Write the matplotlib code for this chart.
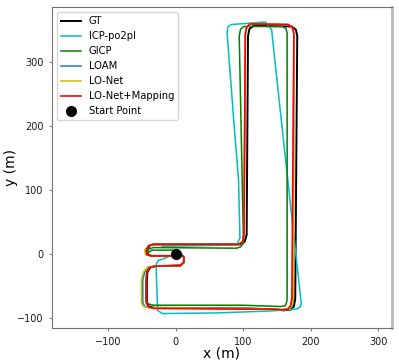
import matplotlib
matplotlib.use("Agg")
import matplotlib.pyplot as plt

# Trajectories (x, y in metres)
gt_x = [0, 8, 12, 12, 7, -30, -38, -42, -43, -43, -40, -32, 100, 140, 160, 170, 175, 177, 180, 178, 172, 115, 109, 107, 105, 102, 95, -33, -39, -42, -41, -36, -5]
gt_y = [0, -1, -5, -13, -18, -19, -21, -28, -40, -76, -82, -84, -85, -86, -88, -87, -82, -70, 340, 350, 355, 356, 351, 340, 30, 19, 15, 15, 13, 6, -1, -3, -3]

icp_x = [0, -20, -26, -29, -29, -27, -20, 60, 140, 178, 184, 186, 166, 147, 142, 133, 82, 77, 76, 87, 93, 95, 90, 40, -20]
icp_y = [0, -8, -10, -16, -30, -88, -93, -92, -89, -86, -83, -78, 115, 300, 350, 362, 358, 354, 345, 193, 115, 25, 14, 13, 12]

gicp_x = [0, 8, 12, 11, 6, -30, -39, -43, -44, -44, -41, -33, 100, 155, 162, 164, 165, 165, 163, 158, 101, 96, 94, 100, 100, 96, 90, -33, -40, -43, -42, -36, -3]
gicp_y = [0, -2, -6, -13, -18, -19, -21, -28, -40, -72, -78, -80, -80, -82, -81, -76, -70, 345, 352, 355, 355, 351, 340, 30, 17, 11, 9, 10, 8, 4, 1, 6, 6]

loam_x = [0, 8, 12, 12, 7, -30, -40, -46, -49, -49, -46, -38, 100, 140, 158, 168, 172, 174, 175, 173, 167, 110, 105, 103, 101, 99, 93, -33, -40, -44, -43, -37, -5]
loam_y = [0, -1, -5, -13, -18, -19, -21, -28, -40, -76, -82, -84, -85, -86, -87, -86, -81, -70, 344, 353, 358, 359, 354, 343, 30, 19, 15, 15, 13, 6, -1, -3, -3]

lonet_x = [0, 8, 12, 12, 7, -30, -42, -48, -51, -51, -48, -40, 100, 140, 158, 168, 172, 174, 175, 173, 167, 110, 105, 103, 101, 99, 93, -33, -41, -46, -45, -38, -5]
lonet_y = [0, -1, -5, -13, -18, -19, -21, -28, -40, -76, -82, -84, -85, -86, -87, -86, -81, -70, 344, 353, 358, 359, 354, 343, 30, 19, 15, 15, 13, 6, -1, -3, -3]

map_x = [0, 8, 12, 12, 7, -30, -39, -43, -44, -44, -41, -33, 100, 140, 158, 166, 170, 172, 175, 173, 167, 110, 105, 103, 101, 99, 93, -33, -40, -44, -43, -37, -2]
map_y = [0, -1, -5, -13, -18, -19, -21, -28, -40, -76, -82, -85, -86, -86, -87, -86, -81, -70, 344, 353, 358, 359, 354, 343, 30, 19, 15, 15, 13, 6, -1, -3, -3]

start = (0, 0)

fig = plt.figure(figsize=(3.99, 3.63), dpi=100)
ax = fig.add_axes([0.1296, 0.0956, 0.8521, 0.8844])

ax.plot(gt_x, gt_y, color="black", linewidth=1.4, label="GT")
ax.plot(icp_x, icp_y, color="c", linewidth=1.1, label="ICP-po2pl")
ax.plot(gicp_x, gicp_y, color="green", linewidth=1.1, label="GICP")
ax.plot(loam_x, loam_y, color="tab:blue", linewidth=1.1, label="LOAM")
ax.plot(lonet_x, lonet_y, color="y", linewidth=1.1, label="LO-Net")
ax.plot(map_x, map_y, color="red", linewidth=1.2, label="LO-Net+Mapping")
ax.plot(start[0], start[1], "o", color="black", markersize=7, linestyle="none", label="Start Point")

ax.set_xlim(-184, 320)
ax.set_ylim(-116, 385)
ax.set_xticks([-100, 0, 100, 200, 300])
ax.set_yticks([-100, 0, 100, 200, 300])
ax.tick_params(labelsize=7, length=2.5, color="0.5", labelcolor="0.1")
ax.set_xlabel("x (m)", fontsize=10)
ax.set_ylabel("y (m)", fontsize=10)
ax.xaxis.set_label_coords(0.5, -0.056)
ax.yaxis.set_label_coords(-0.099, 0.5)

for s in ["left", "bottom", "top"]:
    ax.spines[s].set_color("0.45")
ax.spines["right"].set_color("0.72")
ax.spines["right"].set_linewidth(2)

ax.legend(loc="upper left", fontsize=7.2)

plt.savefig("out.png", dpi=100)
